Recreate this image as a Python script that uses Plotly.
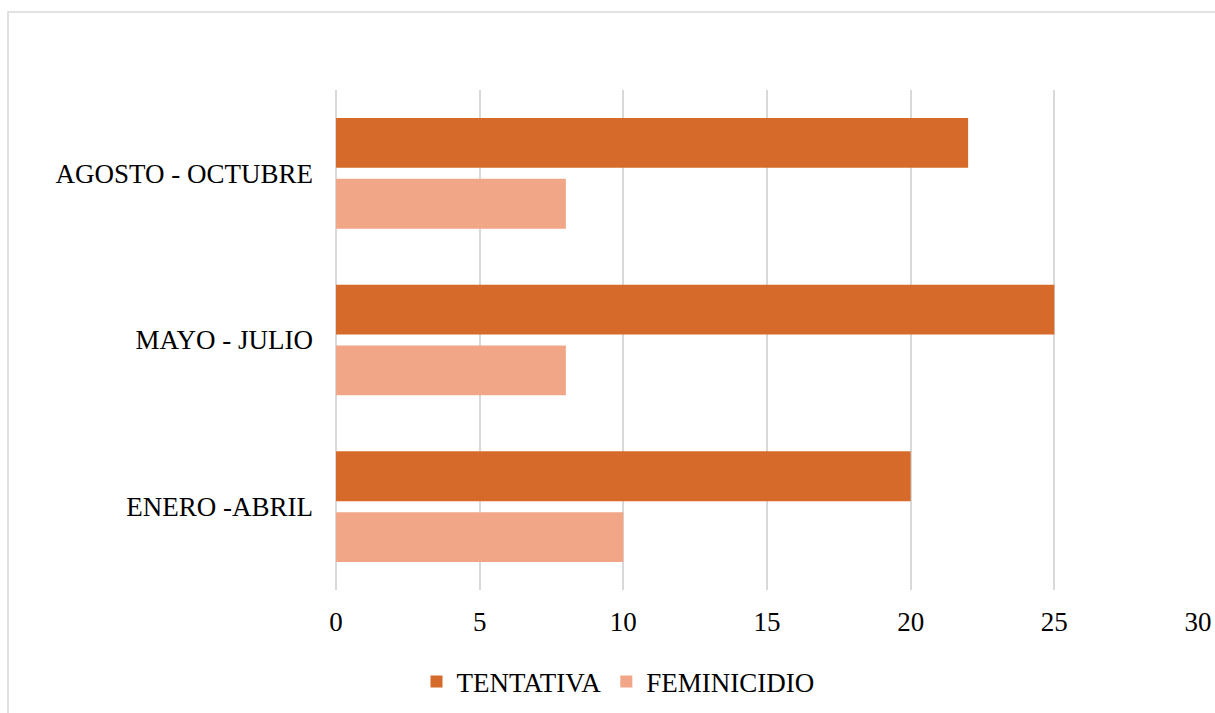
import plotly.graph_objects as go

categories = ["ENERO -ABRIL", "MAYO - JULIO", "AGOSTO - OCTUBRE"]
tentativa = [20, 25, 22]
feminicidio = [10, 8, 8]
x_ticks = [0, 5, 10, 15, 20, 25, 30]

FONT = "Liberation Serif, Times New Roman, serif"

# plot area in page pixels
L, R, T, B = 336, 1198, 90, 590
W, H = 1215, 713
PW, PH = R - L, B - T

fig = go.Figure()
fig.add_trace(go.Bar(
    y=categories, x=feminicidio, name="FEMINICIDIO", orientation="h",
    marker=dict(color="#F2A688", line=dict(width=0)), legendrank=2,
))
fig.add_trace(go.Bar(
    y=categories, x=tentativa, name="TENTATIVA", orientation="h",
    marker=dict(color="#D66A2A", line=dict(width=0)), legendrank=1,
))

fig.update_layout(
    width=W, height=H,
    margin=dict(l=L, r=W - R, t=T, b=H - B, autoexpand=False),
    paper_bgcolor="white", plot_bgcolor="white",
    barmode="group", bargap=0.27, bargroupgap=0.18,
    font=dict(family=FONT, size=27, color="black"),
    showlegend=True,
    legend=dict(orientation="h", x=(618 - L) / PW, xanchor="center", y=-0.135, yanchor="top",
                font=dict(family=FONT, size=27), itemwidth=30, tracegroupgap=0,
                bgcolor="rgba(0,0,0,0)"),
    xaxis=dict(range=[0, 30], tickvals=x_ticks, showgrid=True, gridcolor="#D9D9D9",
               gridwidth=1.5, zeroline=True, zerolinecolor="#D9D9D9", zerolinewidth=1.5,
               showline=False, ticks="", ticklabelstandoff=13, fixedrange=True,
               automargin=False),
    yaxis=dict(type="category", categoryorder="array", categoryarray=categories,
               showgrid=False, showline=False, ticks="", ticklabelstandoff=22,
               fixedrange=True, automargin=False),
    shapes=[dict(type="rect", xref="paper", yref="paper",
                 x0=(8 - L) / PW, x1=(1240 - L) / PW,
                 y0=(B - 720) / PH, y1=(B - 12) / PH,
                 line=dict(color="#D9D9D9", width=1.5), fillcolor="rgba(0,0,0,0)",
                 layer="below")],
)

fig.write_html("out.html",
               config={"displayModeBar": False},
               post_script="document.body.style.margin='0';document.body.style.overflow='hidden';")
